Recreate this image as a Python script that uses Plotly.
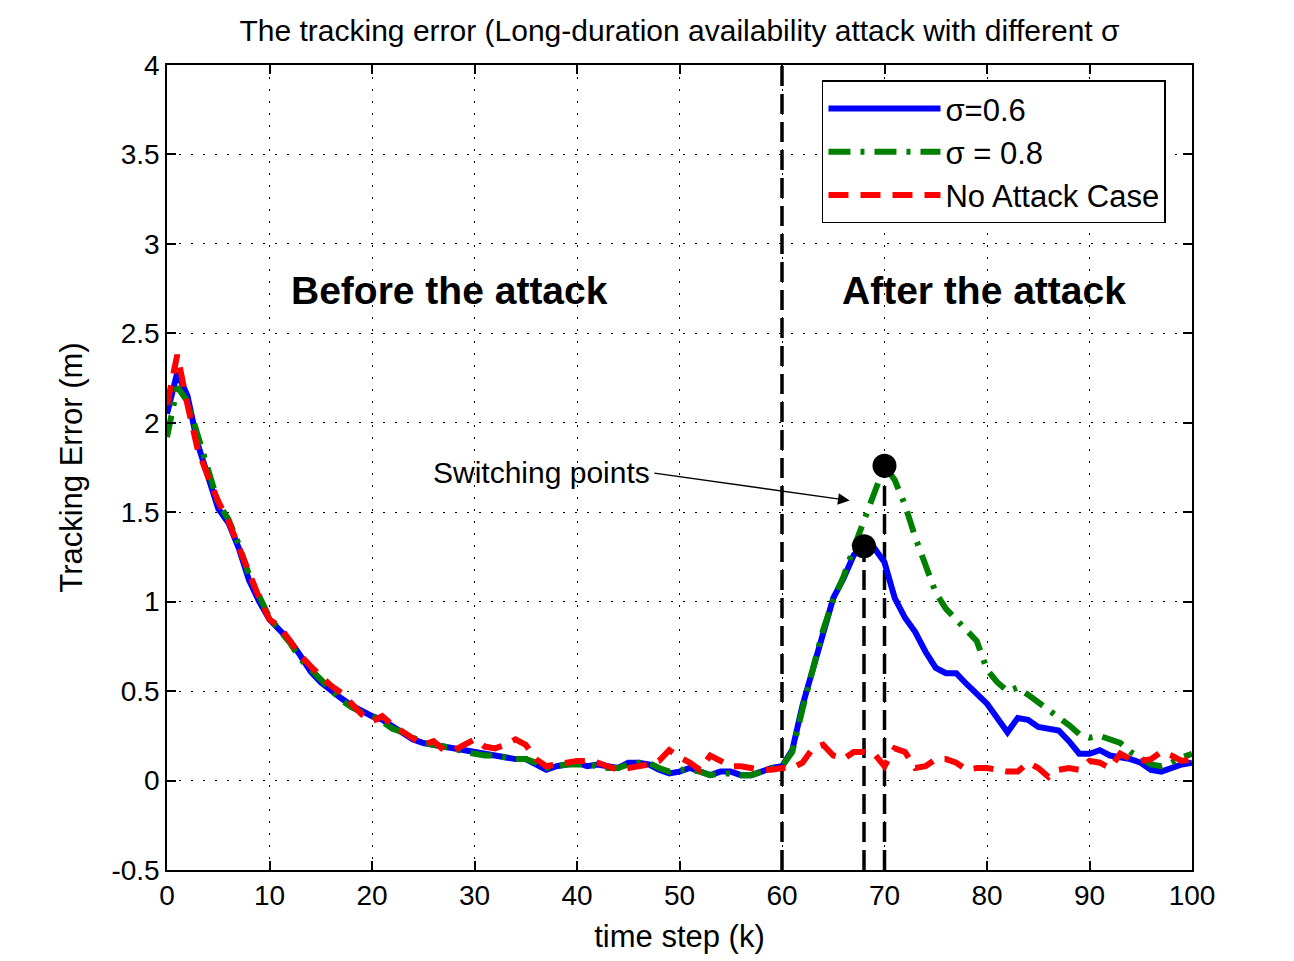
import plotly.graph_objects as go

k = list(range(101))

sigma_06 = [2.05, 2.28, 2.15, 1.88, 1.70, 1.52, 1.44, 1.30, 1.12, 1.00,
            0.90, 0.84, 0.78, 0.70, 0.61, 0.55, 0.50, 0.46, 0.42, 0.39,
            0.36, 0.34, 0.30, 0.26, 0.23, 0.21, 0.20, 0.19, 0.18, 0.17,
            0.16, 0.15, 0.14, 0.13, 0.12, 0.12, 0.09, 0.06, 0.08, 0.09,
            0.10, 0.08, 0.09, 0.08, 0.07, 0.10, 0.10, 0.09, 0.06, 0.04,
            0.05, 0.07, 0.05, 0.03, 0.05, 0.05, 0.03, 0.03, 0.05, 0.07,
            0.08, 0.17, 0.42, 0.62, 0.85, 1.02, 1.13, 1.26, 1.31, 1.30,
            1.22, 1.02, 0.91, 0.83, 0.72, 0.63, 0.60, 0.60, 0.54, 0.48,
            0.43, 0.35, 0.27, 0.35, 0.34, 0.30, 0.29, 0.28, 0.22, 0.15,
            0.15, 0.17, 0.14, 0.13, 0.12, 0.10, 0.06, 0.05, 0.07, 0.09,
            0.10]

sigma_08 = [1.92, 2.20, 2.12, 1.92, 1.74, 1.55, 1.46, 1.32, 1.15, 1.02,
            0.91, 0.84, 0.77, 0.68, 0.62, 0.56, 0.51, 0.45, 0.41, 0.38,
            0.36, 0.33, 0.29, 0.27, 0.24, 0.21, 0.20, 0.19, 0.18, 0.16,
            0.15, 0.14, 0.14, 0.13, 0.12, 0.12, 0.10, 0.07, 0.08, 0.09,
            0.09, 0.09, 0.08, 0.07, 0.07, 0.09, 0.10, 0.10, 0.07, 0.05,
            0.06, 0.06, 0.05, 0.03, 0.04, 0.04, 0.03, 0.03, 0.05, 0.07,
            0.08, 0.16, 0.40, 0.61, 0.84, 1.01, 1.14, 1.30, 1.45, 1.60,
            1.76, 1.68, 1.54, 1.36, 1.20, 1.05, 0.96, 0.90, 0.85, 0.78,
            0.62, 0.55, 0.50, 0.52, 0.48, 0.44, 0.40, 0.36, 0.31, 0.26,
            0.24, 0.25, 0.23, 0.21, 0.16, 0.12, 0.09, 0.08, 0.10, 0.13,
            0.15]

no_attack = [2.10, 2.38, 2.10, 1.85, 1.70, 1.56, 1.45, 1.30, 1.16, 1.02,
             0.90, 0.86, 0.78, 0.70, 0.64, 0.58, 0.53, 0.49, 0.43, 0.37,
             0.33, 0.36, 0.31, 0.27, 0.24, 0.20, 0.22, 0.17, 0.17, 0.20,
             0.23, 0.19, 0.18, 0.20, 0.23, 0.20, 0.12, 0.08, 0.09, 0.10,
             0.11, 0.11, 0.10, 0.08, 0.06, 0.07, 0.08, 0.09, 0.11, 0.17,
             0.13, 0.10, 0.06, 0.14, 0.11, 0.08, 0.08, 0.07, 0.06, 0.06,
             0.07, 0.07, 0.10, 0.18, 0.20, 0.14, 0.12, 0.16, 0.16, 0.15,
             0.08, 0.18, 0.16, 0.07, 0.08, 0.12, 0.12, 0.10, 0.06, 0.07,
             0.07, 0.06, 0.05, 0.05, 0.10, 0.07, 0.02, 0.06, 0.07, 0.06,
             0.11, 0.10, 0.07, 0.15, 0.12, 0.11, 0.12, 0.16, 0.14, 0.11,
             0.12]

attack_start = 60
switch_k = [68, 70]
switch_v = [sigma_06[68], sigma_08[70]]

x_ticks = [0, 10, 20, 30, 40, 50, 60, 70, 80, 90, 100]
y_ticks = [-0.5, 0, 0.5, 1, 1.5, 2, 2.5, 3, 3.5, 4]
y_tick_text = ["-0.5", "0", "0.5", "1", "1.5", "2", "2.5", "3", "3.5", "4"]

FONT = "Liberation Sans, Arial, sans-serif"

fig = go.Figure()

# vertical dashed markers
fig.add_trace(go.Scatter(x=[attack_start, attack_start], y=[-0.5, 4], mode="lines",
                         line=dict(color="black", width=3.5, dash="20px,8px"),
                         showlegend=False, hoverinfo="skip"))
for sk, sv in zip(switch_k, switch_v):
    fig.add_trace(go.Scatter(x=[sk, sk], y=[-0.5, sv], mode="lines",
                             line=dict(color="black", width=3.5, dash="20px,8px"),
                             showlegend=False, hoverinfo="skip"))

fig.add_trace(go.Scatter(x=k, y=sigma_06, mode="lines", name="σ=0.6",
                         line=dict(color="#0000FF", width=6)))
fig.add_trace(go.Scatter(x=k, y=sigma_08, mode="lines", name="σ = 0.8",
                         line=dict(color="#008000", width=6, dash="22px,10px,4px,10px")))
fig.add_trace(go.Scatter(x=k, y=no_attack, mode="lines", name="No Attack Case",
                         line=dict(color="#FF0000", width=6, dash="20px,12px")))

fig.add_trace(go.Scatter(x=switch_k, y=switch_v, mode="markers",
                         marker=dict(color="black", size=24),
                         showlegend=False, hoverinfo="skip"))

axis_common = dict(
    showline=True, linecolor="black", linewidth=1.5, mirror="ticks",
    ticks="inside", ticklen=9, tickwidth=1.5, tickcolor="black",
    showgrid=True, gridcolor="black", gridwidth=1, griddash="2px,10px",
    zeroline=False, tickfont=dict(family=FONT, size=28, color="black"),
)

fig.update_xaxes(range=[0, 100], tickvals=x_ticks,
                 title=dict(text="time step (k)", font=dict(family=FONT, size=31, color="black"), standoff=15),
                 **axis_common)
fig.update_yaxes(range=[-0.5, 4], tickvals=y_ticks, ticktext=y_tick_text,
                 title=dict(text="Tracking Error (m)", font=dict(family=FONT, size=31, color="black"), standoff=20),
                 **axis_common)

fig.add_annotation(x=27.6, y=2.74, text="<b>Before the attack</b>", showarrow=False,
                   font=dict(family=FONT, size=39, color="black"))
fig.add_annotation(x=79.7, y=2.74, text="<b>After the attack</b>", showarrow=False,
                   font=dict(family=FONT, size=39, color="black"))
fig.add_annotation(x=36.5, y=1.72, text="Switching points", showarrow=False,
                   font=dict(family=FONT, size=30, color="black"))
fig.add_annotation(x=66.6, y=1.565, ax=47.4, ay=1.72, axref="x", ayref="y",
                   text="", showarrow=True, arrowhead=2, arrowsize=1.8,
                   arrowwidth=1.3, arrowcolor="black")

fig.update_layout(
    width=1294, height=961,
    margin=dict(l=159, r=110, t=57, b=99),
    paper_bgcolor="white", plot_bgcolor="white",
    title=dict(text="The tracking error (Long-duration availability attack with different σ",
               xref="paper", x=0.5, xanchor="center", y=0.977, yanchor="middle",
               font=dict(family=FONT, size=30, color="black")),
    legend=dict(x=0.639, y=0.981, xanchor="left", yanchor="top",
                bgcolor="white", bordercolor="black", borderwidth=1.5,
                font=dict(family=FONT, size=31, color="black"),
                itemwidth=112, tracegroupgap=0),
    showlegend=True,
)

fig.write_html("out.html")
